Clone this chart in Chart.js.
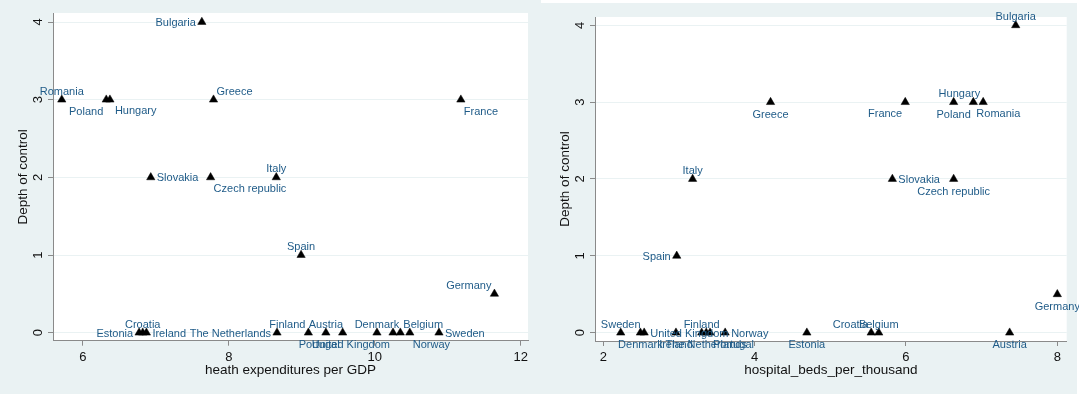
<!DOCTYPE html>
<html>
<head>
<meta charset="utf-8">
<script src="https://cdn.jsdelivr.net/npm/chart.js@4.4.1/dist/chart.umd.min.js"></script>
<style>
html, body { margin: 0; padding: 0; background: #eaf2f3; width: 1079px; height: 394px; overflow: hidden; }
canvas { position: absolute; top: 0; }
#healthChart { left: 0; }
#bedsChart { left: 540px; }
.strip { position: absolute; background: #fff; }
</style>
</head>
<body>
<div class="strip" style="left:541px;top:0;width:538px;height:3px"></div>
<div class="strip" style="left:1077px;top:0;width:2px;height:394px"></div>
<canvas id="healthChart" width="540" height="394"></canvas>
<canvas id="bedsChart" width="539" height="394"></canvas>
<script>
const countries = ['Bulgaria', 'Romania', 'Poland', 'Hungary', 'Greece', 'France', 'Slovakia',
    'Czech republic', 'Italy', 'Spain', 'Germany', 'Croatia', 'Estonia', 'Ireland',
    'The Netherlands', 'Finland', 'Austria', 'Portugal', 'United Kingdom', 'Denmark',
    'Belgium', 'Norway', 'Sweden'];
const depthOfControl = [4, 3, 3, 3, 3, 3, 2, 2, 2, 1, 0.5, 0, 0, 0, 0, 0, 0, 0, 0, 0, 0, 0, 0];
const healthExpPerGDP = [7.63, 5.71, 6.32, 6.37, 7.79, 11.18, 6.93, 7.75, 8.65, 8.99, 11.64,
    6.82, 6.77, 6.87, 8.66, 9.09, 9.33, 9.56, 10.25, 10.03, 10.35, 10.48, 10.88];
const hospitalBedsPerThousand = [7.45, 6.89, 6.63, 7.02, 4.21, 5.99, 5.82, 6.63, 3.18, 2.97, 8.0,
    5.54, 4.69, 2.96, 3.36, 3.30, 7.37, 3.41, 2.54, 2.49, 5.64, 3.61, 2.23];
const depthTicks = [0, 1, 2, 3, 4];
const healthTicks = [6, 8, 10, 12];
const bedsTicks = [2, 4, 6, 8];

// marker label clock positions (stata style)
const healthLabelPos = {
    'Bulgaria': 9, 'Romania': 12, 'Poland': 7, 'Hungary': 4, 'Greece': 1, 'France': 5,
    'Slovakia': 3, 'Czech republic': 5, 'Italy': 12, 'Spain': 12, 'Germany': 11,
    'Croatia': 12, 'Estonia': 9, 'Ireland': 3, 'The Netherlands': 9, 'Finland': 11,
    'Austria': 12, 'Portugal': 7, 'United Kingdom': 7, 'Denmark': 12, 'Belgium': 1,
    'Norway': 5, 'Sweden': 3
};
const bedsLabelPos = {
    'Bulgaria': 12, 'Romania': 5, 'Poland': 6, 'Hungary': 11, 'Greece': 6, 'France': 7,
    'Slovakia': 3, 'Czech republic': 6, 'Italy': 12, 'Spain': 9, 'Germany': 6,
    'Croatia': 11, 'Estonia': 6, 'Ireland': 6, 'The Netherlands': 6, 'Finland': 12,
    'Austria': 6, 'Portugal': 5, 'United Kingdom': 3, 'Denmark': 6, 'Belgium': 12,
    'Norway': 3, 'Sweden': 12
};

const clock = {
    1: { dx: 3, dy: -5, align: 'left' },
    3: { dx: 6, dy: 4, align: 'left' },
    4: { dx: 5, dy: 14, align: 'left' },
    5: { dx: 3, dy: 15, align: 'left' },
    6: { dx: 0, dy: 15.5, align: 'center' },
    7: { dx: -3, dy: 15, align: 'right' },
    9: { dx: -6, dy: 4, align: 'right' },
    11: { dx: -3, dy: -5, align: 'right' },
    12: { dx: 0, dy: -5, align: 'center' }
};

const FONT = '"Liberation Sans", Arial, Helvetica, sans-serif';
const axisGray = '#8a8a8a';
const labelBlue = '#1f5b88';

function makeChart(id, xValues, xTicks, xMin, xMax, yMin, yMax, area, xTitle, labelPos) {
    const canvas = document.getElementById(id);
    const W = canvas.width, H = canvas.height;

    const textPlugin = {
        id: 'stataText',
        beforeDraw(chart) {
            const a = chart.chartArea;
            chart.ctx.save();
            chart.ctx.fillStyle = '#fff';
            chart.ctx.fillRect(a.left, a.top, a.right - a.left, a.bottom - a.top);
            chart.ctx.restore();
        },
        afterDraw(chart) {
            const { ctx, chartArea: a } = chart;
            const y = chart.scales.y;
            ctx.save();
            ctx.fillStyle = '#111';
            ctx.textAlign = 'center';
            ctx.textBaseline = 'middle';
            ctx.font = '13px ' + FONT;
            depthTicks.forEach(v => {
                ctx.save();
                ctx.translate(a.left - 15, y.getPixelForValue(v));
                ctx.rotate(-Math.PI / 2);
                ctx.fillText(String(v), 0, 0);
                ctx.restore();
            });
            ctx.font = '13.5px ' + FONT;
            ctx.save();
            ctx.translate(a.left - 30, (a.top + a.bottom) / 2);
            ctx.rotate(-Math.PI / 2);
            ctx.fillText('Depth of control', 0, 0);
            ctx.restore();
            ctx.textBaseline = 'alphabetic';
            ctx.fillText(xTitle, (a.left + a.right) / 2, 374);

            ctx.font = '11px ' + FONT;
            ctx.fillStyle = labelBlue;
            chart.getDatasetMeta(0).data.forEach((pt, i) => {
                const name = countries[i];
                const p = clock[labelPos[name]];
                ctx.textAlign = p.align;
                ctx.fillText(name, pt.x + p.dx, pt.y + p.dy);
            });
            ctx.restore();
        }
    };

    return new Chart(canvas, {
        type: 'scatter',
        data: {
            datasets: [{
                data: countries.map((c, i) => ({ x: xValues[i], y: depthOfControl[i] })),
                pointStyle: 'triangle',
                radius: 4.8,
                backgroundColor: '#000',
                borderColor: '#000',
                borderWidth: 0.5
            }]
        },
        options: {
            responsive: false,
            animation: false,
            layout: { padding: { top: area.top, right: W - area.right, left: 0, bottom: 0 } },
            plugins: { legend: { display: false }, tooltip: { enabled: false } },
            scales: {
                x: {
                    type: 'linear', min: xMin, max: xMax,
                    afterBuildTicks: s => { s.ticks = xTicks.map(v => ({ value: v })); },
                    afterFit: s => { s.height = H - area.bottom; },
                    grid: { drawOnChartArea: false, drawTicks: true, tickLength: 5, tickColor: axisGray },
                    border: { color: axisGray, width: 1 },
                    ticks: { color: '#111', font: { family: FONT, size: 13 }, padding: 4, maxRotation: 0, autoSkip: false }
                },
                y: {
                    type: 'linear', min: yMin, max: yMax,
                    afterBuildTicks: s => { s.ticks = depthTicks.map(v => ({ value: v })); },
                    afterFit: s => { s.width = area.left; },
                    grid: { color: '#eaf2f3', drawTicks: true, tickLength: 5, tickColor: axisGray },
                    border: { color: axisGray, width: 1 },
                    ticks: { display: false }
                }
            }
        },
        plugins: [textPlugin]
    });
}

makeChart('healthChart', healthExpPerGDP, healthTicks, 5.59, 12.1, -0.103, 4.116,
    { left: 53, right: 528, top: 13, bottom: 340.7 }, 'heath expenditures per GDP', healthLabelPos);
makeChart('bedsChart', hospitalBedsPerThousand, bedsTicks, 1.89, 8.124, -0.108, 4.108,
    { left: 55, right: 526.7, top: 17, bottom: 341 }, 'hospital_beds_per_thousand', bedsLabelPos);
</script>
</body>
</html>
